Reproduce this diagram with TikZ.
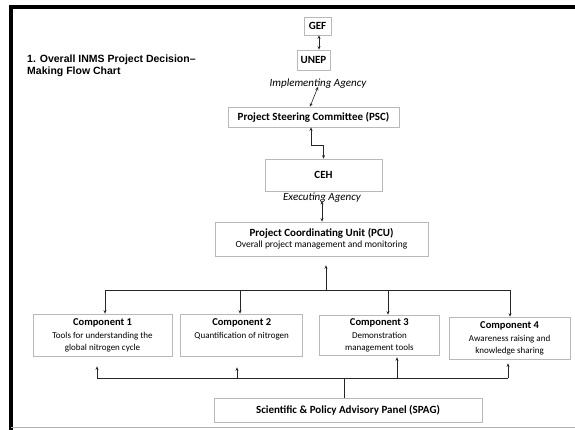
\documentclass[tikz,border=0pt]{standalone}
\usepackage{fontspec}
\setmainfont{Carlito}
\newfontfamily\headfont{Liberation Sans}
\usetikzlibrary{arrows.meta,positioning}

\begin{document}
\begin{tikzpicture}[x=1pt, y=-1pt,
  box/.style={draw=gray!55, line width=0.7pt, align=center, inner sep=0pt,
              font=\bfseries\fontsize{11}{12}\selectfont},
  comp/.style={box, minimum height=42pt, font=\fontsize{9}{12}\selectfont},
  note/.style={inner sep=0pt, font=\itshape\fontsize{11}{13}\selectfont},
  link/.style={line width=0.6pt, draw=black!85},
  arr/.style={link, -{Stealth[length=3.5pt, width=3pt]}},
  dbl/.style={link, {Stealth[length=3.5pt, width=3pt]}-{Stealth[length=3.5pt, width=3pt]}}]
  \useasboundingbox (0,0) rectangle (575,430);
  % page frame
  \draw[line width=4pt] (11.3,430) -- (11.3,7) -- (575,7);
  \draw[gray!60, line width=0.8pt] (11.3,427.5) -- (575,427.5);

  \node[anchor=west, align=left, inner sep=0pt,
        font=\headfont\bfseries\fontsize{10.5}{11.5}\selectfont] (title) at (27,66)
        {1. Overall INMS Project Decision–\\Making Flow Chart};

  % agencies and committees
  \node[box, minimum width=27pt, minimum height=18pt] (gef) at (317.5,26) {GEF};
  \node[box, minimum width=33pt, minimum height=20pt] (unep) at (313.5,60) {UNEP};
  \node[note] (impl) at (318,84) {Implementing Agency};
  \node[box, minimum width=171pt, minimum height=20pt] (psc) at (313.5,117) {Project Steering Committee (PSC)};
  \node[box, minimum width=117pt, minimum height=32pt] (ceh) at (323.5,175) {CEH};
  \node[note] (exec) at (322,198) {Executing Agency};
  \node[box, minimum width=213pt, minimum height=34pt] (pcu) at (321.5,239)
        {Project Coordinating Unit (PCU)\\[-1pt]{\mdseries\fontsize{9.5}{11}\selectfont Overall project management and monitoring}};

  % components
  \node[comp, minimum width=139pt] (c1) at (102.5,335)
        {\textbf{\fontsize{10.5}{12}\selectfont Component 1}\\[1pt] Tools for understanding the\\ global nitrogen cycle};
  \node[comp, minimum width=122pt, right=8pt of c1] (c2)
        {\textbf{\fontsize{10.5}{12}\selectfont Component 2}\\[1pt] Quantification of nitrogen\\ ~};
  \node[comp, minimum width=120pt, minimum height=40pt, right=16pt of c2] (c3)
        {\textbf{\fontsize{10.5}{12}\selectfont Component 3}\\[1pt] Demonstration\\ management tools};
  \node[comp, minimum width=121pt, right=9pt of c3, yshift=-3pt] (c4)
        {\textbf{\fontsize{10.5}{12}\selectfont Component 4}\\[1pt] Awareness raising and\\ knowledge sharing};

  \node[box, minimum width=268pt, minimum height=24pt] (spag) at (348,410) {Scientific \& Policy Advisory Panel (SPAG)};

  % links down the chain
  \draw[dbl] ([xshift=1.5pt]gef.south) -- ([xshift=1.5pt]gef.south |- unep.north);
  \draw[dbl] ([yshift=2pt]impl.south) -- ([xshift=-3.5pt]psc.north);
  \draw[dbl] ([xshift=-2.5pt]psc.south) -- ++(0,18) -| (ceh.north);
  \draw[dbl] ([yshift=2pt]exec.south) -- (exec.south |- pcu.north);

  % distribution bar to the components
  \coordinate (b1) at (105,290);
  \coordinate (b2) at (240,290);
  \coordinate (b3) at (388,290);
  \coordinate (b4) at (510,290);
  \coordinate (bp) at (326,290);
  \draw[link] (b1) -- (b4);
  \draw[arr, shorten >=9pt] (bp) -- (bp |- pcu.south);
  \draw[arr] (b1) -- (b1 |- c1.north);
  \draw[arr] (b2) -- (b2 |- c2.north);
  \draw[arr] (b3) -- (b3 |- c3.north);
  \draw[arr] (b4) -- (b4 |- c4.north);

  % advisory panel bar
  \coordinate (l1) at (97,378);
  \coordinate (l2) at (237,378);
  \coordinate (l3) at (397,378);
  \coordinate (l4) at (508,378);
  \coordinate (ls) at (344,378);
  \draw[link] (l1) -- (l4);
  \draw[link] (ls) -- (ls |- spag.north);
  \draw[arr, shorten >=10pt] (l1) -- (l1 |- c1.south);
  \draw[arr, shorten >=11pt] (l2) -- (l2 |- c2.south);
  \draw[arr, shorten >=2pt] (l3) -- (l3 |- c3.south);
  \draw[arr, shorten >=4pt] (l4) -- (l4 |- c4.south);
\end{tikzpicture}
\end{document}
